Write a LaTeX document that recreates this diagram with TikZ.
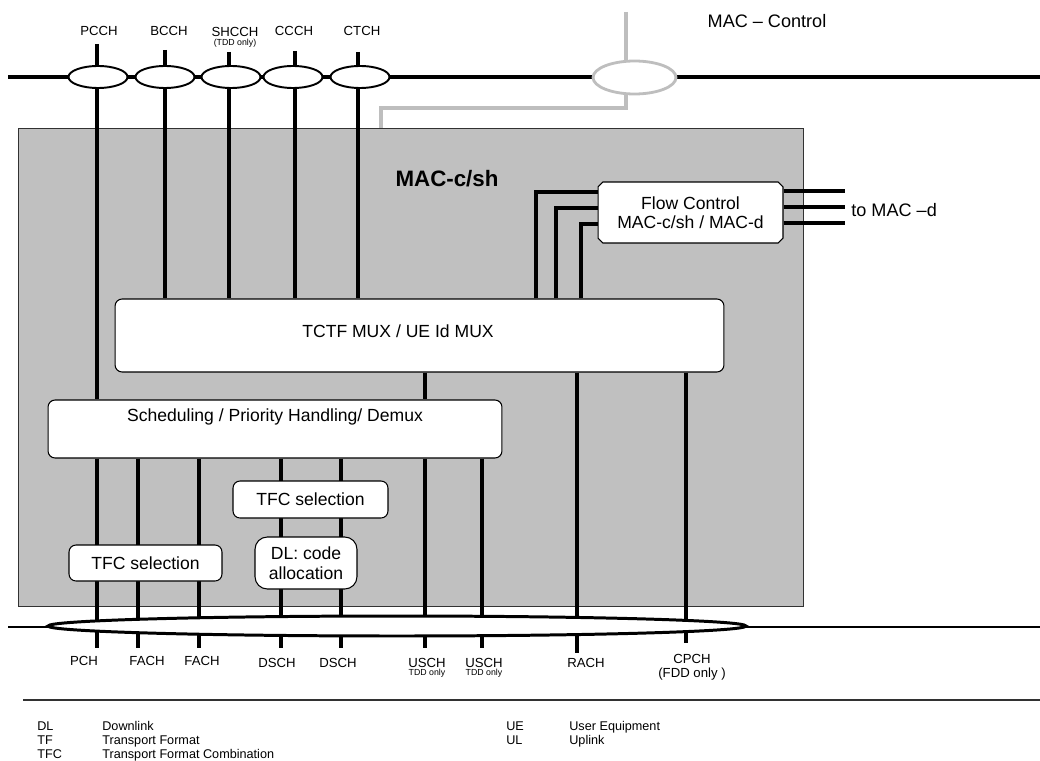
\documentclass[tikz,border=0pt]{standalone}
\usepackage{fontspec}
\setmainfont{Liberation Sans}
\usepackage{xcolor}
\usetikzlibrary{shapes.geometric,shapes.misc,positioning,calc}
\definecolor{macgray}{RGB}{192,192,192}
\definecolor{ctrlgray}{RGB}{190,190,190}
\definecolor{rimgray}{RGB}{50,50,50}
\pgfdeclarelayer{back}
\pgfdeclarelayer{mid}
\pgfsetlayers{back,mid,main}

\begin{document}
\begin{tikzpicture}[x=0.02cm, y=-0.02cm,
    chan/.style={line width=1.8pt},
    ctrlline/.style={draw=ctrlgray, line width=2.4pt},
    sap/.style={ellipse, draw, fill=white, line width=1.1pt, inner sep=0pt, minimum width=1.18cm, minimum height=0.44cm},
    procbox/.style={rectangle, rounded corners=4pt, draw, fill=white, line width=0.6pt, inner sep=0pt, align=center, font=\fontsize{10}{11.5}\selectfont},
    chlabel/.style={font=\fontsize{7.5}{8}\selectfont, inner sep=0pt, align=center},
    tinylabel/.style={font=\fontsize{5}{5}\selectfont, inner sep=0pt},
    legend/.style={font=\fontsize{7.2}{8}\selectfont, anchor=base west, inner sep=0pt}]

    \useasboundingbox (0,0) rectangle (1040,760);

    % MAC-c/sh entity
    \begin{pgfonlayer}{back}
        \node[draw=rimgray, fill=macgray, line width=0.5pt, inner sep=0pt, anchor=north west,
              minimum width=15.7cm, minimum height=9.56cm] (mac) at (18,128) {};
    \end{pgfonlayer}
    \node[font=\bfseries\fontsize{12.7}{14}\selectfont] (macname) at (447,179) {MAC-c/sh};

    % logical channel SAPs (top)
    \coordinate (topL) at (8,77);
    \coordinate (topR) at (1040,77);
    \foreach \x/\nm in {98/pcch,165/bcch,231/shcch,293/ccch,360/ctch}{
        \node[sap] (\nm) at (\x,77) {};
    }
    \foreach \x/\y/\nm in {97/44/pcch,165/50/bcch,229/52/shcch,295/51/ccch,358/52/ctch}{
        \coordinate (\nm-in) at (\x,\y);
    }
    \node[chlabel] (pcch-lbl)  at (99,31)  {PCCH};
    \node[chlabel] (bcch-lbl)  at (169,31) {BCCH};
    \node[chlabel] (shcch-lbl) at (235,32) {SHCCH};
    \node[tinylabel] (shcch-note) at (235,43) {(TDD only)};
    \node[chlabel] (ccch-lbl)  at (294,31) {CCCH};
    \node[chlabel] (ctch-lbl)  at (362,31) {CTCH};

    % MAC control SAP
    \node[sap, draw=ctrlgray, line width=1.6pt, minimum width=1.66cm, minimum height=0.66cm] (ctrl) at (634.5,77.5) {};
    \coordinate (ctrl-in) at (626,12);
    \coordinate (ctrl-turn) at (381,108);
    \node[font=\fontsize{10.3}{12}\selectfont] (ctrl-lbl) at (767,21) {MAC – Control};

    % functional blocks
    \node[procbox, minimum width=12.18cm, minimum height=1.46cm] (tctf) at (419.5,335.5) {};
    \node[font=\fontsize{10}{12}\selectfont] (tctf-txt) at (398,331) {TCTF MUX / UE Id MUX};
    \node[procbox, minimum width=9.08cm, minimum height=1.16cm] (sched) at (275,429) {};
    \node[font=\fontsize{10}{12}\selectfont] (sched-txt) at (275,417) {Scheduling / Priority Handling/ Demux};
    \node[procbox, minimum width=3.06cm, minimum height=0.72cm] (tfcA) at (145.5,563) {TFC selection};
    \node[procbox, minimum width=3.1cm, minimum height=0.74cm] (tfcB) at (310.5,499.5) {TFC selection};
    \node[procbox, rounded corners=7pt, minimum width=2.04cm, minimum height=1.04cm] (dlcode) at (306,563) {DL: code\\allocation};
    \node[procbox, chamfered rectangle, sharp corners, chamfered rectangle sep=1.4pt,
          font=\fontsize{10}{10.5}\selectfont, minimum width=3.7cm, minimum height=1.22cm] (flowctl) at (690.5,212.5) {Flow Control\\MAC-c/sh / MAC-d};
    \coordinate (fcA) at (536,192);
    \coordinate (fcB) at (556,208);
    \coordinate (fcC) at (581,224);
    \coordinate (tomacd) at (845,207);
    \node[font=\fontsize{10.3}{12}\selectfont, anchor=west, inner sep=0pt] (tomacd-lbl) at (851,210) {to MAC –d};

    % transport channel SAP (bottom)
    \coordinate (botL) at (8,627);
    \coordinate (botR) at (1040,627);
    \node[ellipse, draw, fill=white, line width=1.7pt, inner sep=0pt, minimum width=13.96cm, minimum height=0.4cm] (trch) at (397,626) {};
    \foreach \x/\y/\nm in {97/648/pch,138/648/fachA,199/648/fachB,281/648/dschA,341/648/dschB,425/648/uschA,482/648/uschB,577/653/rach,686/643/cpch}{
        \coordinate (\nm-out) at (\x,\y);
    }
    \foreach \x/\y/\nm/\txt in {84/661/pch/PCH,147/661/fachA/FACH,202/661/fachB/FACH,277/663/dschA/DSCH,338/663/dschB/DSCH,427/663/uschA/USCH,484/663/uschB/USCH,586/663/rach/RACH}{
        \node[chlabel] (\nm-lbl) at (\x,\y) {\txt};
    }
    \node[tinylabel] (uschA-note) at (427,673) {TDD only};
    \node[tinylabel] (uschB-note) at (484,673) {TDD only};
    \node[chlabel] (cpch-lbl) at (692,667) {CPCH\\(FDD only )};

    % connectors, behind the blocks
    \begin{pgfonlayer}{mid}
        \draw[chan] (topL) -- (topR);
        \draw[line width=1.3pt] (botL) -- (botR);
        \draw[chan] (pcch-in) -- (pcch-in |- sched.north);
        \foreach \nm in {bcch,shcch,ccch,ctch}
            \draw[chan] (\nm-in) -- (\nm-in |- tctf.north);
        \draw[chan] (tctf.south -| uschA-out) -- (sched.north -| uschA-out);
        \foreach \nm in {pch,fachA,fachB,dschA,dschB,uschA,uschB}
            \draw[chan] (sched.south -| \nm-out) -- (\nm-out);
        \foreach \nm in {rach,cpch}
            \draw[chan] (tctf.south -| \nm-out) -- (\nm-out);
        % towards flow control
        \foreach \c in {fcA,fcB,fcC}
            \draw[chan] (tctf.north -| \c) |- (flowctl.west |- \c);
        \foreach \y in {191,207,223}
            \draw[line width=2.6pt] (flowctl.east |- 0,\y) -- (tomacd |- 0,\y);
        % MAC control path
        \draw[ctrlline] (ctrl-in) -- (ctrl-in |- ctrl.center);
        \draw[ctrlline] (ctrl-in |- ctrl.center) |- (ctrl-turn) -- (ctrl-turn |- mac.north);
    \end{pgfonlayer}

    % abbreviations
    \coordinate (sepL) at (23,700);
    \coordinate (sepR) at (1040,700);
    \draw[rimgray, line width=0.9pt] (sepL) -- (sepR);
    \node[legend] (dl)  at (37,730) {DL};
    \node[legend] (tf)  at (37,744) {TF};
    \node[legend] (tfc) at (37,758) {TFC};
    \node[legend] (dl-t)  at (102,730) {Downlink};
    \node[legend] (tf-t)  at (102,744) {Transport Format};
    \node[legend] (tfc-t) at (102,758) {Transport Format Combination};
    \node[legend] (ue) at (506,730) {UE};
    \node[legend] (ul) at (506,744) {UL};
    \node[legend] (ue-t) at (569,730) {User Equipment};
    \node[legend] (ul-t) at (569,744) {Uplink};
\end{tikzpicture}
\end{document}
